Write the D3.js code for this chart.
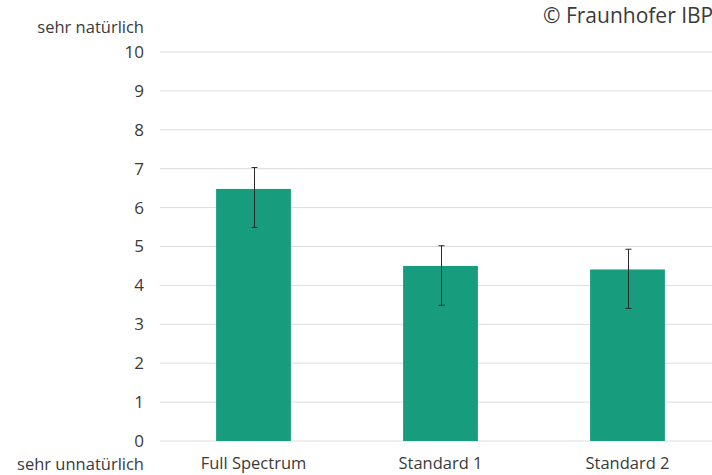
<!DOCTYPE html>
<html><head><meta charset="utf-8">
<script src="https://cdn.jsdelivr.net/npm/d3@7"></script>
<style>body{margin:0;background:#fff}svg{display:block}text{font-family:"Open Sans",sans-serif;fill:#3a3a3a}</style>
</head><body><svg id="c" width="712" height="475"></svg>
<script>
const categories = ["Full Spectrum", "Standard 1", "Standard 2"];
const values = [6.48, 4.50, 4.41];
const errLow = [5.49, 3.49, 3.41];
const errHigh = [7.03, 5.02, 4.93];
const yTicks = [0,1,2,3,4,5,6,7,8,9,10];
const topLabel = "sehr natürlich";
const bottomLabel = "sehr unnatürlich";
const credit = "© Fraunhofer IBP";

const svg = d3.select("#c");
const y = d3.scaleLinear().domain([0,10]).range([441,52]);
const x = d3.scaleBand().domain(categories).range([160,721]).paddingInner(0.6).paddingOuter(0.3);

const yAxis = d3.axisLeft(y).tickValues(yTicks).tickSize(0).tickPadding(16);
const gy = svg.append("g").attr("transform","translate(160,0)").call(yAxis);
gy.select(".domain").remove();
gy.selectAll("text").attr("font-size",17).attr("fill","#3a3a3a").style("font-family","'Open Sans',sans-serif");

svg.append("g").selectAll("line").data(yTicks).join("line")
  .attr("x1",160).attr("x2",712).attr("y1",d=>y(d)).attr("y2",d=>y(d))
  .attr("stroke","#dcdcdc").attr("stroke-width",1);

svg.append("g").selectAll("rect").data(values).join("rect")
  .attr("x",(d,i)=>x(categories[i])).attr("width",x.bandwidth())
  .attr("y",d=>y(d)).attr("height",d=>y(0)-y(d)).attr("fill","#179c7d");

const eb = svg.append("g").attr("stroke","#2a2a2a").attr("stroke-width",1);
categories.forEach((c,i)=>{
  const cx = Math.round(x(c)+x.bandwidth()/2)+0.5;
  eb.append("line").attr("x1",cx).attr("x2",cx).attr("y1",y(errLow[i])).attr("y2",y(errHigh[i]));
  [errLow[i],errHigh[i]].forEach(v=>eb.append("line").attr("x1",cx-3).attr("x2",cx+3).attr("y1",y(v)).attr("y2",y(v)));
});

const xAxis = d3.axisBottom(x).tickSize(0).tickPadding(16);
const gx = svg.append("g").attr("transform","translate(0,441)").call(xAxis);
gx.select(".domain").remove();
gx.selectAll("text").attr("font-size",16.5).attr("fill","#3a3a3a").style("font-family","'Open Sans',sans-serif");

svg.append("text").attr("x",144).attr("y",33).attr("text-anchor","end").attr("font-size",16.5).text(topLabel);
svg.append("text").attr("x",144).attr("y",470).attr("text-anchor","end").attr("font-size",16.5).text(bottomLabel);
svg.append("text").attr("x",543).attr("y",23).attr("font-size",21).text(credit);
</script></body></html>
